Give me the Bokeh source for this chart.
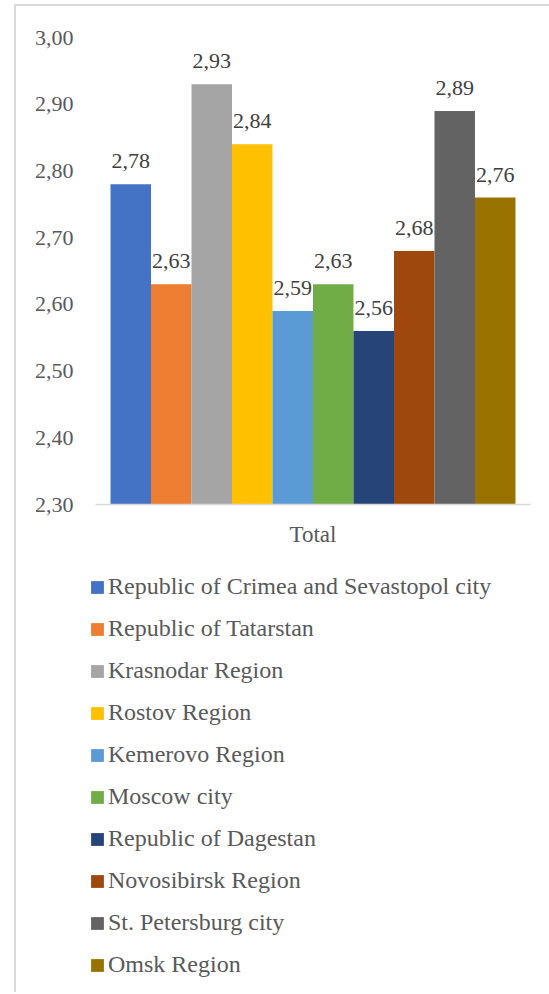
from bokeh.plotting import figure
from bokeh.layouts import column
from bokeh.models import (ColumnDataSource, FactorRange, Range1d, FixedTicker,
                          CustomJSTickFormatter, Legend, LegendItem)
from bokeh.transform import dodge
from bokeh.core.properties import value
from bokeh.embed import file_html
from bokeh.resources import INLINE

# ---- data ----
category = ["Total"]
regions = [
    "Republic of Crimea and Sevastopol city",
    "Republic of Tatarstan",
    "Krasnodar Region",
    "Rostov Region",
    "Kemerovo Region",
    "Moscow city",
    "Republic of Dagestan",
    "Novosibirsk Region",
    "St. Petersburg city",
    "Omsk Region",
]
values = [2.78, 2.63, 2.93, 2.84, 2.59, 2.63, 2.56, 2.68, 2.89, 2.76]
colors = ["#4472C4", "#ED7D31", "#A5A5A5", "#FFC000", "#5B9BD5",
          "#70AD47", "#264478", "#9E480E", "#636363", "#997300"]
y_ticks = [2.30, 2.40, 2.50, 2.60, 2.70, 2.80, 2.90, 3.00]
y_min, y_max = 2.30, 3.00

FONT = "Liberation Serif"
W = 549
H1, H2 = 560, 432

# ---- chart ----
p = figure(width=W, height=H1,
           x_range=FactorRange(factors=category, range_padding=0),
           y_range=Range1d(y_min, y_max),
           output_backend="svg", toolbar_location=None,
           min_border_left=95, min_border_right=W - 530,
           min_border_top=37, min_border_bottom=H1 - 504)
p.frame_align = False
p.border_fill_color = None
p.background_fill_color = None
p.outline_line_color = None
p.xgrid.visible = False
p.ygrid.visible = False

# ---- legend panel ----
q = figure(width=W, height=H2, x_range=p.x_range, y_range=p.y_range,
           output_backend="svg", toolbar_location=None,
           x_axis_location=None, y_axis_location=None,
           min_border_left=89, min_border_right=0,
           min_border_top=13, min_border_bottom=0)
q.frame_align = False
q.border_fill_color = None
q.background_fill_color = None
q.outline_line_color = None
q.grid.visible = False

group_width = 0.931
bar_w = group_width / len(values)

items = []
for i, (name, v, c) in enumerate(zip(regions, values, colors)):
    src = ColumnDataSource(dict(x=category, top=[v],
                                label=[f"{v:.2f}".replace(".", ",")]))
    off = -group_width / 2 + bar_w * (i + 0.5)
    xs = dodge("x", off, range=p.x_range)
    p.vbar(x=xs, top="top", bottom=y_min, width=bar_w,
           fill_color=c, line_color=None, source=src)
    p.text(x=xs, y="top", text="label", source=src,
           text_align="center", text_baseline="middle", y_offset=-23,
           text_font=value(FONT), text_font_size="22px", text_color="#404040")
    # legend swatch (same series, drawn only in the legend)
    r = q.vbar(x=xs, top="top", bottom=y_min, width=bar_w,
               fill_color=c, line_color=None, source=src, visible=False)
    items.append(LegendItem(label=name, renderers=[r]))

yax = p.yaxis[0]
yax.ticker = FixedTicker(ticks=y_ticks)
yax.formatter = CustomJSTickFormatter(code="return tick.toFixed(2).replace('.', ',');")
yax.axis_line_color = None
yax.major_tick_line_color = None
yax.minor_tick_line_color = None
yax.major_tick_out = 0
yax.major_tick_in = 0
yax.major_label_standoff = 22
yax.major_label_text_font = FONT
yax.major_label_text_font_size = "22px"
yax.major_label_text_color = "#595959"

xax = p.xaxis[0]
xax.axis_line_color = "#d9d9d9"
xax.axis_line_width = 1.5
xax.major_tick_line_color = None
xax.major_tick_out = 0
xax.major_tick_in = 0
xax.major_label_standoff = 17
xax.major_label_text_font = FONT
xax.major_label_text_font_size = "23px"
xax.major_label_text_color = "#595959"

legend = Legend(items=items, location="top_left",
                label_text_font=FONT, label_text_font_size="24px",
                label_text_color="#595959",
                glyph_width=16, glyph_height=16, label_standoff=3,
                label_height=27,
                padding=0, spacing=15, margin=0,
                background_fill_alpha=0, border_line_color=None)
q.add_layout(legend)

layout = column(p, q, spacing=0)
layout.styles = {
    "background": "linear-gradient(#dadada,#dadada) 14px 4px / 2px 100% no-repeat, "
                  "linear-gradient(#dadada,#dadada) 14px 4px / 100% 2px no-repeat, white"
}

open("out.html", "w").write(file_html(layout, INLINE))
